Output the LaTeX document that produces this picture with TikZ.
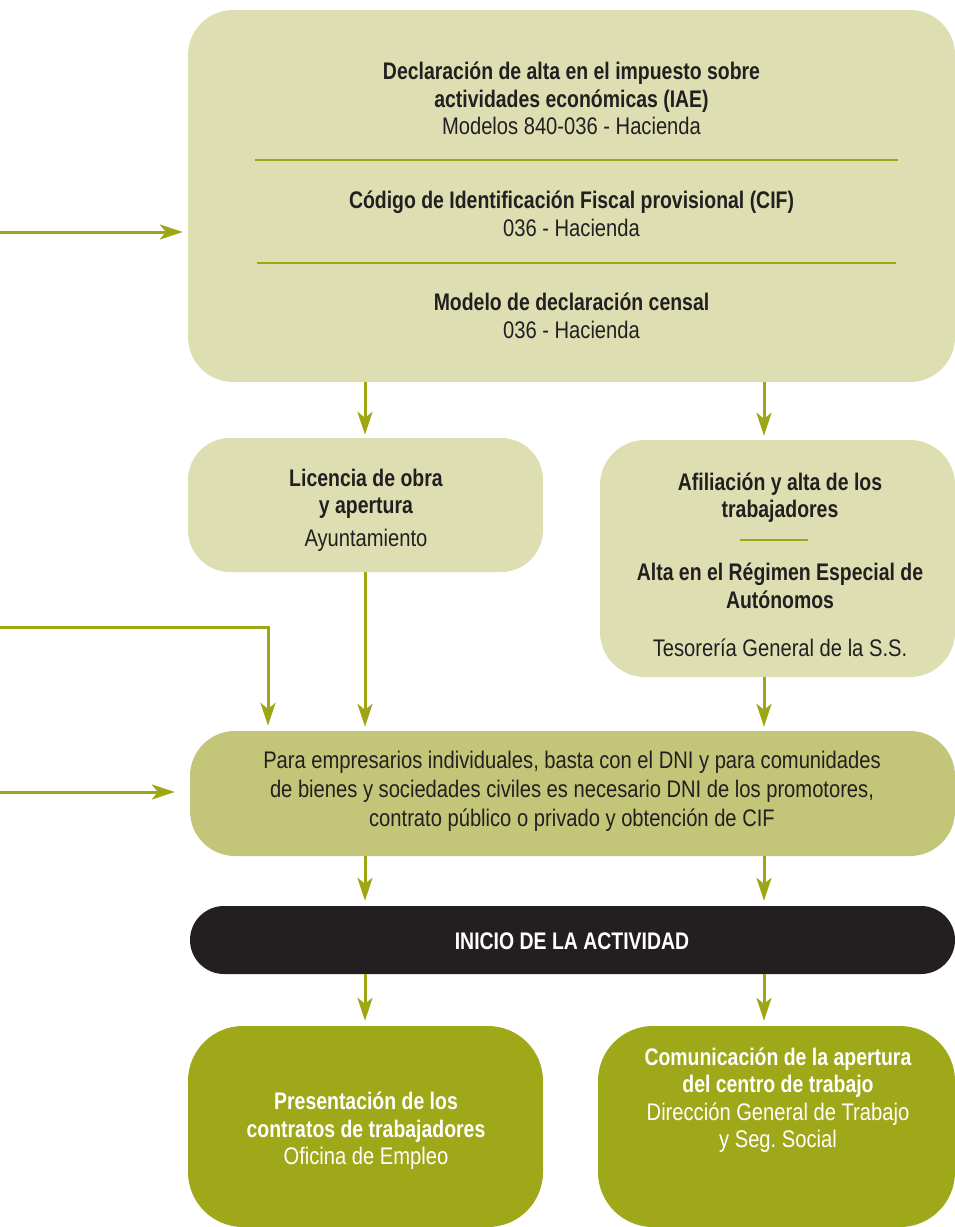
\documentclass[tikz,border=0pt]{standalone}
\usepackage{fontspec}
\setmainfont[FakeStretch=0.84,BoldFeatures={FakeStretch=0.81}]{Liberation Sans}
\usetikzlibrary{arrows.meta,calc}
\definecolor{lightg}{HTML}{DDDFB2}
\definecolor{midg}{HTML}{C3C678}
\definecolor{darkg}{HTML}{9FA818}
\definecolor{olv}{HTML}{9EA614}
\definecolor{ink}{HTML}{231F20}
\newcommand\mytxt{\fontsize{24}{27.5}\selectfont}
\newcommand\mytxtw{\fontsize{24}{29}\selectfont}
\begin{document}
\begin{tikzpicture}[x=1pt,y=-1pt,
  box/.style={draw=none, rounded corners=#1, inner sep=0pt},
  lbl/.style={align=center, text=ink, font=\mytxt, inner sep=0pt},
  wlbl/.style={align=center, text=white, font=\mytxt, inner sep=0pt},
  arr/.style={draw=olv, line width=3pt, -{Stealth[length=23pt,width=15pt,inset=6pt]}},
  divl/.style={draw=olv, line width=2.5pt}]
\useasboundingbox (0,0) rectangle (955,1227);
% boxes
\node[box=45, fill=lightg, minimum width=767, minimum height=372] (top) at (571.5,196) {};
\node[box=42, fill=lightg, minimum width=355, minimum height=134] (lic) at (365.5,505) {};
\node[box=45, fill=lightg, minimum width=355, minimum height=237] (afi) at (777.5,558.5) {};
\node[box=45, fill=midg, minimum width=765, minimum height=125] (mid) at (572.5,793.5) {};
\node[box=34, fill=ink, minimum width=765, minimum height=68] (ini) at (572.5,940) {};
\node[box=55, fill=darkg, minimum width=355, minimum height=201] (pres) at (365.5,1126.5) {};
\node[box=55, fill=darkg, minimum width=357, minimum height=201] (com) at (776.5,1126.5) {};
% texts in top box
\node[lbl] (t1) at (571.5,98.5) {\textbf{Declaración de alta en el impuesto sobre}\\\textbf{actividades económicas (IAE)}\\Modelos 840-036 - Hacienda};
\node[lbl] (t2) at (571.5,214) {\textbf{Código de Identificación Fiscal provisional (CIF)}\\036 - Hacienda};
\node[lbl] (t3) at (571.5,316) {\textbf{Modelo de declaración censal}\\036 - Hacienda};
\coordinate (d1a) at (255,160); \coordinate (d1b) at (898,160);
\coordinate (d2a) at (257,263); \coordinate (d2b) at (896,263);
\draw[divl] (d1a) -- (d1b);
\draw[divl] (d2a) -- (d2b);
% licencia
\node[lbl] (tl1) at (366,494) {\textbf{Licencia de obra}\\\textbf{y apertura}};
\node[lbl] (tl2) at (366,540) {Ayuntamiento};
% afiliacion
\node[lbl] (ta1) at (780,497.5) {\textbf{Afiliación y alta de los}\\\textbf{trabajadores}};
\coordinate (d3a) at (740,540); \coordinate (d3b) at (808,540);
\draw[divl] (d3a) -- (d3b);
\node[lbl] (ta2) at (780,586) {\textbf{Alta en el Régimen Especial de}\\\textbf{Autónomos}};
\node[lbl] (ta3) at (780,648) {Tesorería General de la S.S.};
% middle
\node[lbl, font=\mytxtw] (tm) at (572,791) {Para empresarios individuales, basta con el DNI y para comunidades\\de bienes y sociedades civiles es necesario DNI de los promotores,\\contrato público o privado y obtención de CIF};
% inicio
\node[wlbl] (ti) at (572,941) {\textbf{INICIO DE LA ACTIVIDAD}};
% bottom
\node[wlbl] (tp) at (366,1131) {\textbf{Presentación de los}\\\textbf{contratos de trabajadores}\\Oficina de Empleo};
\node[wlbl] (tc) at (778,1100) {\textbf{Comunicación de la apertura}\\\textbf{del centro de trabajo}\\Dirección General de Trabajo\\y Seg.\ Social};
% columns
\coordinate (cl) at (365,0);
\coordinate (cr) at (764,0);
% arrows
\coordinate (in1) at (0,232);
\coordinate (in2) at (0,627);
\coordinate (in2c) at (268,627);
\coordinate (in3) at (0,792);
\draw[arr, shorten >=5pt] (in1) -- (top.west |- in1);
\draw[arr, shorten >=5pt] (in2) -- (in2c) -- (mid.north -| in2c);
\draw[arr, shorten >=15pt] (in3) -- (mid.west |- in3);
\draw[arr, shorten >=3pt] (top.south -| cl) -- (lic.north -| cl);
\draw[arr, shorten >=4pt] (top.south -| cr) -- (afi.north -| cr);
\draw[arr, shorten >=4pt] (lic.south -| cl) -- (mid.north -| cl);
\draw[arr, shorten >=4pt] (afi.south -| cr) -- (mid.north -| cr);
\draw[arr, shorten >=5pt] (mid.south -| cl) -- (ini.north -| cl);
\draw[arr, shorten >=5pt] (mid.south -| cr) -- (ini.north -| cr);
\draw[arr, shorten >=5pt] (ini.south -| cl) -- (pres.north -| cl);
\draw[arr, shorten >=5pt] (ini.south -| cr) -- (com.north -| cr);
\end{tikzpicture}
\end{document}
